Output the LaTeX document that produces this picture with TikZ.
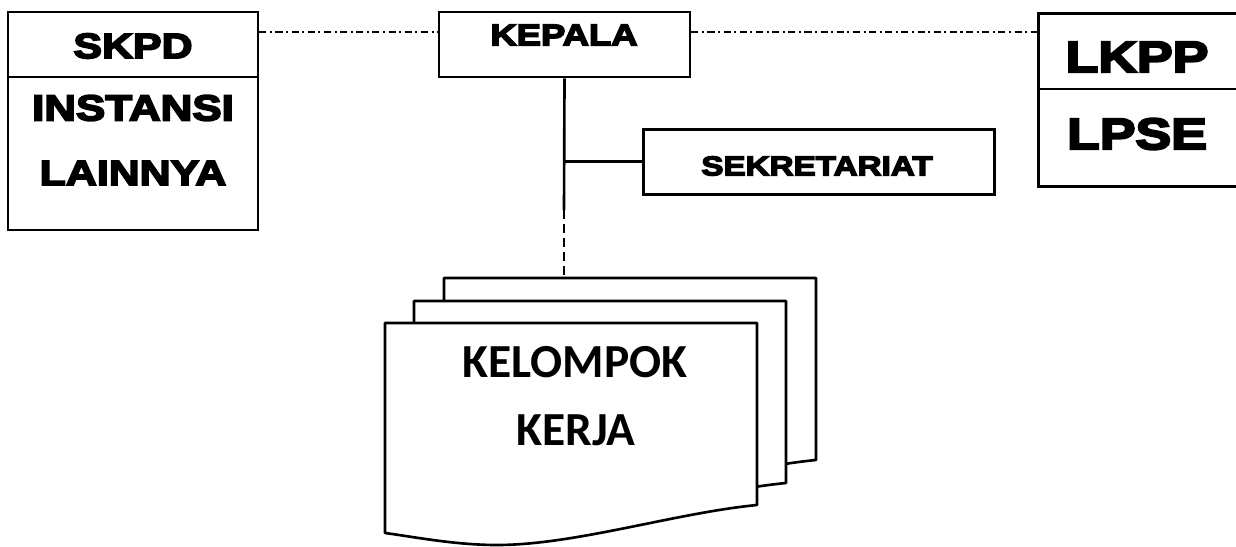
\documentclass[tikz,border=0pt]{standalone}
\usepackage{fontspec}
\setmainfont{Liberation Sans}
\newfontfamily\blk[FakeBold=5,FakeStretch=1.22]{Liberation Sans Bold}
\newfontfamily\calfont{Carlito}
\begin{document}
\begin{tikzpicture}[x=0.02cm,y=-0.02cm,
  box/.style={draw,line width=1.5pt,inner sep=0pt,fill=white},
  lbl/.style={inner sep=0pt,font=\blk},
  link/.style={line width=1.5pt},
  divider/.style={line width=1.5pt},
  dotdash/.style={line width=1.4pt,dash pattern=on 4pt off 2pt on 1.2pt off 2pt},
  page/.style={draw,line width=1.5pt,fill=white,line join=round}]
\useasboundingbox (0,0) rectangle (1236,547);
% SKPD box
\node[box,minimum width=250*0.02cm,minimum height=218*0.02cm] (skpd) at (133,121) {};
\draw[divider] (skpd.west |- 0,77) -- (skpd.east |- 0,77);
\node[lbl,font=\blk\fontsize{20}{22}\selectfont] (skpdt) at (133,46) {SKPD};
\node[lbl,font=\blk\fontsize{20.5}{22}\selectfont] (inst) at (133,108) {INSTANSI};
\node[lbl,font=\blk\fontsize{20}{22}\selectfont] (lain) at (133,173) {LAINNYA};
% KEPALA
\node[box,minimum width=251*0.02cm,minimum height=65*0.02cm] (kepala) at (564.5,44.5) {};
\node[lbl,font=\blk\fontsize{17}{19}\selectfont] (kepalat) at (564,35) {KEPALA};
% LKPP box
\node[box,minimum width=210*0.02cm,minimum height=173*0.02cm,anchor=north west] (lkpp) at (1037,12) {};
\draw[divider] (lkpp.west |- 0,89) -- (lkpp.east |- 0,89);
\node[lbl,font=\blk\fontsize{25}{27}\selectfont] (lkppt) at (1137,57) {LKPP};
\node[lbl,font=\blk\fontsize{25}{27}\selectfont] (lpse) at (1137,134) {LPSE};
% SEKRETARIAT
\node[box,minimum width=351*0.02cm,minimum height=65*0.02cm,anchor=north west] (sek) at (642,128) {};
\node[lbl,font=\blk\fontsize{15.5}{17}\selectfont] (sekt) at (817,166) {SEKRETARIAT};
% dash-dot links
\draw[dotdash] (skpd.north east |- 0,32) -- (kepala.west |- 0,32);
\draw[dotdash] (kepala.east |- 0,32) -- (lkpp.west |- 0,32);
% documents
\def\docpath{(0,0) -- (372,0) -- (372,182) .. controls (290,190) and (190,222) .. (112,222) .. controls (70,222) and (30,214) .. (0,210) -- cycle}
\begin{scope}[shift={(444,278)}]
  \draw[page] \docpath;
\end{scope}
\begin{scope}[shift={(414,301)}]
  \draw[page] \docpath;
\end{scope}
\begin{scope}[shift={(385,323)}]
  \draw[page] \docpath;
\end{scope}
\coordinate (docTop) at (564,278);
\node[inner sep=0pt,font=\calfont\bfseries\fontsize{27}{30}\selectfont] (kel) at (575,362) {KELOMPOK};
\node[inner sep=0pt,font=\calfont\bfseries\fontsize{27}{30}\selectfont] (ker) at (576,430) {KERJA};
% connectors
\coordinate (dsplit) at (564,210);
\draw[link] (kepala.south) -- (dsplit);
\draw[link,dash pattern=on 5pt off 3pt] (dsplit) -- (docTop);
\draw[link] (kepala.south |- sek.west) -- (sek.west);
\end{tikzpicture}
\end{document}
